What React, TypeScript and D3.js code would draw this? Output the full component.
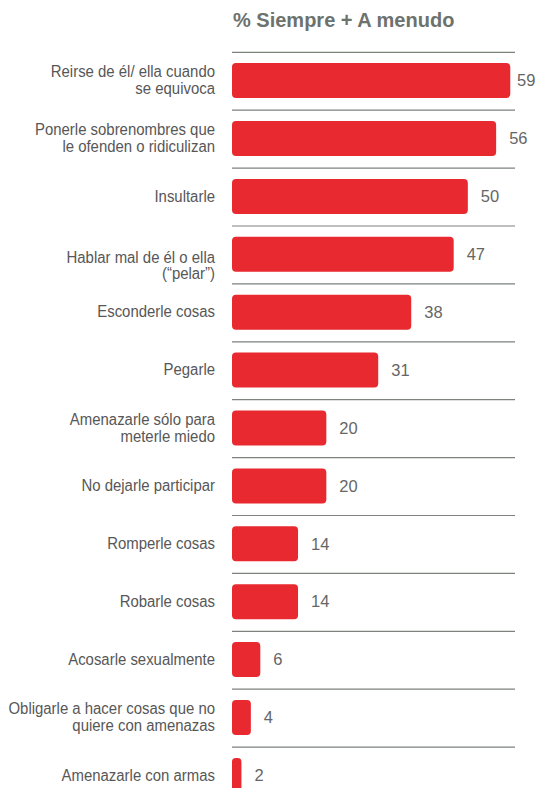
import React from "react";
import * as d3 from "d3";

const title = "% Siempre + A menudo";

const categories: string[][] = [
  ["Reirse de él/ ella cuando", "se equivoca"],
  ["Ponerle sobrenombres que", "le ofenden o ridiculizan"],
  ["Insultarle"],
  ["Hablar mal de él o ella", "(“pelar”)"],
  ["Esconderle cosas"],
  ["Pegarle"],
  ["Amenazarle sólo para", "meterle miedo"],
  ["No dejarle participar"],
  ["Romperle cosas"],
  ["Robarle cosas"],
  ["Acosarle sexualmente"],
  ["Obligarle a hacer cosas que no", "quiere con amenazas"],
  ["Amenazarle con armas"],
];

const values: number[] = [59, 56, 50, 47, 38, 31, 20, 20, 14, 14, 6, 4, 2];

// labels whose first line sits at the bar centre and the rest hangs below
const hangingLabels: number[] = [3];

const W = 538;
const H = 788;
const FONT = "'Liberation Sans', Arial, Helvetica, sans-serif";
const RED = "#E8292F";
const GRID = "#7d827d";
const LABEL = "#575757";
const VALUE = "#666666";
const TITLE = "#6d726d";

export default function App() {
  const x = d3.scaleLinear().domain([0, 60]).range([232, 515]);
  const ids = categories.map((_, i) => String(i));
  const step = 57.9;
  const y = d3
    .scaleBand<string>()
    .domain(ids)
    .range([52.3, 52.3 + step * ids.length])
    .paddingInner(0)
    .paddingOuter(0);
  const barOffset = 10.8;
  const barH = 35;
  const lineH = 16.7;
  const labelFs = 15.8;
  const labelSx = 0.945;
  const valueFs = 16.5;

  return (
    <svg
      width={W}
      height={H}
      viewBox={`0 0 ${W} ${H}`}
      style={{ position: "absolute", left: 0, top: 0, background: "#fff" }}
      fontFamily={FONT}
    >
      <text x={233} y={27.3} fontSize={20} fontWeight="bold" fill={TITLE}>
        {title}
      </text>
      {ids.map((id, i) => {
        const top = y(id)!;
        const by = top + barOffset;
        const cy = by + barH / 2;
        const lines = categories[i];
        const v = values[i];
        const w = x(v) - x(0);
        const firstBase = hangingLabels.includes(i)
          ? cy + 8.5
          : cy + 15 * 0.35 - ((lines.length - 1) * lineH) / 2;
        return (
          <g key={id}>
            <line
              x1={x(0)}
              x2={x(60)}
              y1={top}
              y2={top}
              stroke={GRID}
              strokeWidth={1.2}
            />
            <rect
              x={x(0)}
              y={by}
              width={w}
              height={barH}
              rx={Math.min(4, w / 2.5)}
              fill={RED}
            />
            <g transform={`translate(215,0) scale(${labelSx},1)`}>
              <text textAnchor="end" fontSize={labelFs} fill={LABEL}>
                {lines.map((ln, k) => (
                  <tspan key={k} x={0} y={firstBase + k * lineH}>
                    {ln}
                  </tspan>
                ))}
              </text>
            </g>
            <text
              x={Math.min(x(v) + 13, 517)}
              y={cy + valueFs * 0.35}
              fontSize={valueFs}
              fill={VALUE}
            >
              {v}
            </text>
          </g>
        );
      })}
    </svg>
  );
}
